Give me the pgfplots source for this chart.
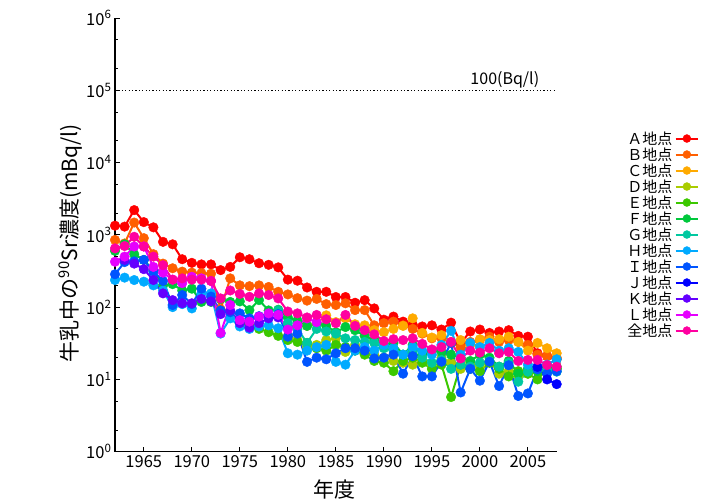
\documentclass[border=0pt]{standalone}
\usepackage{fontspec}
\setmainfont{Noto Sans CJK JP}
\usepackage{pgfplots}
\pgfplotsset{compat=1.18}

\definecolor{cA}{HTML}{FF0000}
\definecolor{cB}{HTML}{FF5F00}
\definecolor{cC}{HTML}{FFAA00}
\definecolor{cD}{HTML}{AACC00}
\definecolor{cE}{HTML}{3CC800}
\definecolor{cF}{HTML}{00C83C}
\definecolor{cG}{HTML}{00C8A0}
\definecolor{cH}{HTML}{00AAFF}
\definecolor{cI}{HTML}{0055FF}
\definecolor{cJ}{HTML}{0000FF}
\definecolor{cK}{HTML}{6400FF}
\definecolor{cL}{HTML}{E600FF}
\definecolor{cZ}{HTML}{FF00A0}

\pgfplotsset{
  ser/.style={color=#1, mark=*, line width=2pt, mark size=4.8pt,
    mark options={solid, line width=0.4pt, fill=#1}},
}

\begin{document}
\begin{tikzpicture}
\path[use as bounding box] (0,0) rectangle (719pt,503pt);
\begin{axis}[
  at={(115pt,51.3pt)}, anchor=south west,
  scale only axis,
  width=441.7pt, height=433.7pt,
  xmin=1962, xmax=2008,
  ymode=log, ymin=1, ymax=1e6,
  axis x line*=bottom, axis y line*=left,
  axis line style={line width=1.2pt, -},
  clip=false,
  xtick={1965,1970,1975,1980,1985,1990,1995,2000,2005},
  xticklabels={1965,1970,1975,1980,1985,1990,1995,2000,2005},
  ytick={1,10,100,1000,10000,100000,1000000},
  yticklabels={10\textsuperscript{0},10\textsuperscript{1},10\textsuperscript{2},10\textsuperscript{3},10\textsuperscript{4},10\textsuperscript{5},10\textsuperscript{6}},
  minor ytick={2,5,20,50,200,500,2000,5000,20000,50000,200000,500000},
  tick align=inside,
  major tick length=5pt, minor tick length=3pt,
  tick style={line width=0.8pt, black},
  ticklabel style={font=\fontsize{16.5}{16.5}\selectfont},
  xlabel={年度},
  ylabel={牛乳中の\textsuperscript{90}Sr濃度(mBq/l)},
  xlabel style={font=\fontsize{21}{21}\selectfont, at={(axis description cs:0.498,-0.088)}, anchor=center},
  ylabel style={font=\fontsize{21}{21}\selectfont, at={(axis description cs:-0.100,0.481)}, anchor=center, rotate=0},
  legend style={draw=none, fill=none, at={(axis description cs:1.33,0.748)}, anchor=north east,
    font=\fontsize{15}{15}\selectfont, row sep=-2.1pt},
  legend cell align=right,
  legend plot pos=right,
  legend image code/.code={\draw[mark repeat=2,mark phase=2,mark size=4pt] plot coordinates {(0cm,0cm) (0.4cm,0cm) (0.8cm,0cm)};},
]

\addplot[black, line width=1.2pt, dash pattern=on 1.2pt off 2.2pt, forget plot] coordinates {(1962,100000) (2008,100000)};
\node[anchor=south, font=\fontsize{16}{16}\selectfont, inner sep=2pt] at (axis cs:2002.6,100000) {100(Bq/l)};

% A
\addplot[ser=cA] coordinates {
(1962,1340) (1963,1300) (1964,2200) (1965,1500) (1966,1270) (1967,800) (1968,740) (1969,460) (1970,410) (1971,390)
(1972,390) (1973,325) (1974,360) (1975,490) (1976,460) (1977,405) (1978,385) (1979,355) (1980,240) (1981,232)
(1982,187) (1983,163) (1984,163) (1985,138) (1986,138) (1987,115) (1988,125) (1989,96) (1990,67) (1991,74)
(1992,63) (1993,57) (1994,54) (1995,56) (1996,49) (1997,61) (1998,32) (1999,46) (2000,49) (2001,44)
(2002,46) (2003,48) (2004,40) (2005,39) (2006,23) (2007,21) (2008,19)
};
\addlegendentry{Ａ地点}
% B
\addplot[ser=cB] coordinates {
(1962,850) (1963,760) (1964,1480) (1965,900) (1966,540) (1967,400) (1968,345) (1969,310) (1970,300) (1971,295)
(1972,290) (1973,93) (1974,250) (1975,200) (1976,195) (1977,200) (1978,190) (1979,163) (1980,150) (1981,133)
(1982,123) (1983,130) (1984,110) (1985,107) (1986,113) (1987,91) (1988,91) (1989,56) (1990,60) (1991,63)
(1992,56) (1993,50) (1994,43) (1995,37) (1996,37) (1997,32) (1998,28) (1999,33) (2000,35) (2001,39)
(2002,33) (2003,35) (2004,33) (2005,30) (2006,22) (2007,21) (2008,20)
};
\addlegendentry{Ｂ地点}
% C
\addplot[ser=cC] coordinates {
(1982,55) (1983,60) (1984,77) (1985,62) (1986,70) (1987,58) (1988,56) (1989,48) (1990,45) (1991,50)
(1992,55) (1993,70) (1994,44) (1995,38) (1996,41) (1997,33) (1998,35) (1999,30) (2000,36) (2001,35)
(2002,36) (2003,39) (2004,33) (2005,25) (2006,32) (2007,27) (2008,23)
};
\addlegendentry{Ｃ地点}
% D
\addplot[ser=cD] coordinates {
(1980,40) (1981,35) (1982,28) (1983,30) (1984,35) (1985,37) (1986,24) (1987,30) (1988,25) (1989,22)
(1990,20) (1991,18) (1992,17) (1993,16) (1994,18) (1995,16) (1996,20) (1997,17) (1998,14) (1999,17)
(2000,15) (2001,18) (2002,12) (2003,13) (2004,11) (2005,12) (2006,13) (2007,14) (2008,14)
};
\addlegendentry{Ｄ地点}
% E
\addplot[ser=cE] coordinates {
(1975,60) (1976,55) (1977,50) (1978,45) (1979,40) (1980,35) (1981,33) (1982,32) (1983,27) (1984,25)
(1985,30) (1986,28) (1987,25) (1988,22) (1989,18) (1990,17) (1991,13) (1992,18) (1993,20) (1994,17)
(1995,14) (1996,16) (1997,5.7) (1998,16) (1999,14) (2000,13) (2001,17) (2002,14) (2003,11) (2004,13)
(2005,12) (2006,10) (2007,14) (2008,15)
};
\addlegendentry{Ｅ地点}
% F
\addplot[ser=cF] coordinates {
(1962,600) (1963,740) (1964,540) (1965,450) (1966,320) (1967,200) (1968,208) (1969,170) (1970,180) (1971,118)
(1972,118) (1973,130) (1974,118) (1975,120) (1976,91) (1977,125) (1978,90) (1979,92) (1980,72) (1981,65)
(1982,55) (1983,60) (1984,55) (1985,45) (1986,53) (1987,48) (1988,40) (1989,35) (1990,30) (1991,32)
(1992,22) (1993,30) (1994,22) (1995,25) (1996,24) (1997,22) (1998,20) (1999,18) (2000,22) (2001,20)
(2002,15) (2003,18) (2004,12) (2005,14) (2006,13) (2007,15) (2008,14)
};
\addlegendentry{Ｆ地点}
% G
\addplot[ser=cG] coordinates {
(1979,90) (1980,60) (1981,50) (1982,32) (1983,50) (1984,46) (1985,43) (1986,37) (1987,35) (1988,33)
(1989,32) (1990,27) (1991,25) (1992,22) (1993,24) (1994,20) (1995,17) (1996,18.6) (1997,14) (1998,16)
(1999,15) (2000,17) (2001,18) (2002,15) (2003,17) (2004,9.3) (2005,12.8) (2006,15) (2007,13.5) (2008,12.8)
};
\addlegendentry{Ｇ地点}
% H
\addplot[ser=cH] coordinates {
(1962,237) (1963,256) (1964,237) (1965,225) (1966,200) (1967,170) (1968,100) (1969,110) (1970,96) (1971,155)
(1972,155) (1973,43) (1974,70) (1975,54) (1976,50) (1977,54) (1978,56) (1979,51) (1980,23) (1981,22)
(1982,25) (1983,28) (1984,30) (1985,17.5) (1986,16) (1987,25) (1988,28) (1989,25) (1990,30) (1991,27)
(1992,22) (1993,28) (1994,25) (1995,22) (1996,30) (1997,47) (1998,22) (1999,32) (2000,28) (2001,32)
(2002,25) (2003,27) (2004,24) (2005,16) (2006,14) (2007,16) (2008,19)
};
\addlegendentry{Ｈ地点}
% I
\addplot[ser=cI] coordinates {
(1962,285) (1963,420) (1964,430) (1965,450) (1966,310) (1967,230) (1968,107) (1969,147) (1970,110) (1971,180)
(1972,140) (1973,90) (1974,85) (1975,82) (1976,70) (1977,75) (1978,78) (1979,80) (1980,39) (1981,43)
(1982,17.5) (1983,20) (1984,19) (1985,23) (1986,27) (1987,27) (1988,25) (1989,19.5) (1990,20) (1991,22)
(1992,12) (1993,21) (1994,11) (1995,11) (1996,17.6) (1997,32) (1998,6.6) (1999,14) (2000,9.6) (2001,17.6)
(2002,8.1) (2003,15.7) (2004,5.9) (2005,6.4) (2006,13.8) (2007,12) (2008,13)
};
\addlegendentry{Ｉ地点}
% J
\addplot[ser=cJ] coordinates {
(2006,14.9) (2007,10) (2008,8.6)
};
\addlegendentry{Ｊ地点}
% K
\addplot[ser=cK] coordinates {
(1963,450) (1964,400) (1965,335) (1966,237) (1967,155) (1968,125) (1969,113) (1970,113) (1971,130) (1972,120)
(1973,80) (1974,90) (1975,60) (1976,52) (1977,60) (1978,70) (1979,72)
};
\addlegendentry{Ｋ地点}
% L
\addplot[ser=cL] coordinates {
(1962,425) (1963,500) (1964,690) (1965,690) (1966,360) (1967,300) (1968,240) (1969,215) (1970,263) (1971,250)
(1972,230) (1973,44) (1974,107) (1975,66) (1976,63) (1977,74) (1978,82) (1979,78) (1980,49) (1981,56)
(1982,70) (1983,62)
};
\addlegendentry{Ｌ地点}
% all
\addplot[ser=cZ] coordinates {
(1962,650) (1963,700) (1964,940) (1965,690) (1966,500) (1967,380) (1968,240) (1969,250) (1970,240) (1971,240)
(1972,230) (1973,132) (1974,170) (1975,152) (1976,139) (1977,155) (1978,147) (1979,132) (1980,87) (1981,82)
(1982,72) (1983,78) (1984,68) (1985,60) (1986,78) (1987,55) (1988,48) (1989,42) (1990,34) (1991,36)
(1992,35) (1993,37) (1994,31) (1995,26) (1996,28) (1997,33) (1998,19.5) (1999,25) (2000,23.5) (2001,27)
(2002,23) (2003,24) (2004,18) (2005,18.6) (2006,18.6) (2007,15.8) (2008,15)
};
\addlegendentry{全地点}
\end{axis}
\end{tikzpicture}
\end{document}
